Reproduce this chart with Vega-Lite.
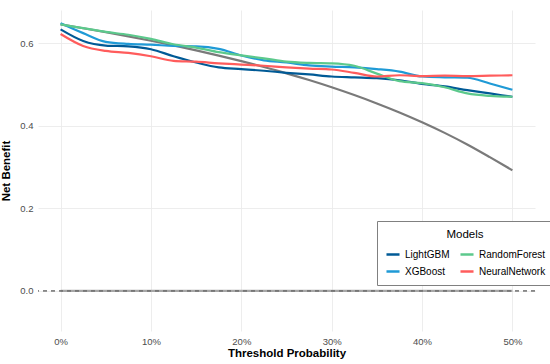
{
  "$schema": "https://vega.github.io/schema/vega-lite/v6.json",
  "width": 497,
  "height": 321,
  "autosize": {"type": "none"},
  "padding": {"left": 38, "top": 10, "right": 15, "bottom": 33},
  "background": "white",
  "config": {
    "font": "Liberation Sans",
    "view": {"stroke": null},
    "axis": {
      "domain": false,
      "ticks": false,
      "grid": true,
      "gridColor": "#ebebeb",
      "gridWidth": 0.9,
      "labelColor": "#4d4d4d",
      "labelFontSize": 9.5,
      "titleFontSize": 11.5,
      "titleFontWeight": "bold",
      "titleColor": "#000000"
    },
    "legend": {
      "orient": "none",
      "legendX": 339,
      "legendY": 211,
      "columns": 2,
      "titleAnchor": "middle",
      "titleFontSize": 11.5,
      "titleFontWeight": "normal",
      "titleColor": "#000000",
      "titlePadding": 6,
      "strokeColor": "#808080",
      "fillColor": "white",
      "padding": 8,
      "symbolType": "stroke",
      "symbolStrokeWidth": 2.5,
      "symbolSize": 170,
      "labelFontSize": 10,
      "labelColor": "#000000",
      "rowPadding": 4,
      "columnPadding": 5
    }
  },
  "datasets": {
    "models": [
      {"t": 0, "nb": 0.633, "model": "LightGBM"},
      {"t": 0.025, "nb": 0.605, "model": "LightGBM"},
      {"t": 0.05, "nb": 0.594, "model": "LightGBM"},
      {"t": 0.075, "nb": 0.592, "model": "LightGBM"},
      {"t": 0.1, "nb": 0.585, "model": "LightGBM"},
      {"t": 0.125, "nb": 0.568, "model": "LightGBM"},
      {"t": 0.15, "nb": 0.553, "model": "LightGBM"},
      {"t": 0.175, "nb": 0.541, "model": "LightGBM"},
      {"t": 0.2, "nb": 0.537, "model": "LightGBM"},
      {"t": 0.225, "nb": 0.533, "model": "LightGBM"},
      {"t": 0.25, "nb": 0.528, "model": "LightGBM"},
      {"t": 0.275, "nb": 0.524, "model": "LightGBM"},
      {"t": 0.3, "nb": 0.519, "model": "LightGBM"},
      {"t": 0.325, "nb": 0.517, "model": "LightGBM"},
      {"t": 0.35, "nb": 0.515, "model": "LightGBM"},
      {"t": 0.375, "nb": 0.51, "model": "LightGBM"},
      {"t": 0.4, "nb": 0.501, "model": "LightGBM"},
      {"t": 0.425, "nb": 0.495, "model": "LightGBM"},
      {"t": 0.45, "nb": 0.486, "model": "LightGBM"},
      {"t": 0.475, "nb": 0.478, "model": "LightGBM"},
      {"t": 0.5, "nb": 0.47, "model": "LightGBM"},
      {"t": 0, "nb": 0.648, "model": "XGBoost"},
      {"t": 0.025, "nb": 0.624, "model": "XGBoost"},
      {"t": 0.05, "nb": 0.603, "model": "XGBoost"},
      {"t": 0.075, "nb": 0.598, "model": "XGBoost"},
      {"t": 0.1, "nb": 0.596, "model": "XGBoost"},
      {"t": 0.125, "nb": 0.593, "model": "XGBoost"},
      {"t": 0.15, "nb": 0.592, "model": "XGBoost"},
      {"t": 0.175, "nb": 0.586, "model": "XGBoost"},
      {"t": 0.2, "nb": 0.57, "model": "XGBoost"},
      {"t": 0.225, "nb": 0.558, "model": "XGBoost"},
      {"t": 0.25, "nb": 0.553, "model": "XGBoost"},
      {"t": 0.275, "nb": 0.546, "model": "XGBoost"},
      {"t": 0.3, "nb": 0.543, "model": "XGBoost"},
      {"t": 0.325, "nb": 0.541, "model": "XGBoost"},
      {"t": 0.35, "nb": 0.537, "model": "XGBoost"},
      {"t": 0.375, "nb": 0.531, "model": "XGBoost"},
      {"t": 0.4, "nb": 0.519, "model": "XGBoost"},
      {"t": 0.425, "nb": 0.517, "model": "XGBoost"},
      {"t": 0.45, "nb": 0.516, "model": "XGBoost"},
      {"t": 0.475, "nb": 0.502, "model": "XGBoost"},
      {"t": 0.5, "nb": 0.487, "model": "XGBoost"},
      {"t": 0, "nb": 0.645, "model": "RandomForest"},
      {"t": 0.025, "nb": 0.636, "model": "RandomForest"},
      {"t": 0.05, "nb": 0.627, "model": "RandomForest"},
      {"t": 0.075, "nb": 0.62, "model": "RandomForest"},
      {"t": 0.1, "nb": 0.61, "model": "RandomForest"},
      {"t": 0.125, "nb": 0.597, "model": "RandomForest"},
      {"t": 0.15, "nb": 0.589, "model": "RandomForest"},
      {"t": 0.175, "nb": 0.578, "model": "RandomForest"},
      {"t": 0.2, "nb": 0.57, "model": "RandomForest"},
      {"t": 0.225, "nb": 0.563, "model": "RandomForest"},
      {"t": 0.25, "nb": 0.555, "model": "RandomForest"},
      {"t": 0.275, "nb": 0.552, "model": "RandomForest"},
      {"t": 0.3, "nb": 0.551, "model": "RandomForest"},
      {"t": 0.325, "nb": 0.545, "model": "RandomForest"},
      {"t": 0.35, "nb": 0.526, "model": "RandomForest"},
      {"t": 0.375, "nb": 0.508, "model": "RandomForest"},
      {"t": 0.4, "nb": 0.503, "model": "RandomForest"},
      {"t": 0.425, "nb": 0.493, "model": "RandomForest"},
      {"t": 0.45, "nb": 0.478, "model": "RandomForest"},
      {"t": 0.475, "nb": 0.472, "model": "RandomForest"},
      {"t": 0.5, "nb": 0.47, "model": "RandomForest"},
      {"t": 0, "nb": 0.622, "model": "NeuralNetwork"},
      {"t": 0.025, "nb": 0.593, "model": "NeuralNetwork"},
      {"t": 0.05, "nb": 0.581, "model": "NeuralNetwork"},
      {"t": 0.075, "nb": 0.576, "model": "NeuralNetwork"},
      {"t": 0.1, "nb": 0.568, "model": "NeuralNetwork"},
      {"t": 0.125, "nb": 0.557, "model": "NeuralNetwork"},
      {"t": 0.15, "nb": 0.555, "model": "NeuralNetwork"},
      {"t": 0.175, "nb": 0.551, "model": "NeuralNetwork"},
      {"t": 0.2, "nb": 0.548, "model": "NeuralNetwork"},
      {"t": 0.225, "nb": 0.545, "model": "NeuralNetwork"},
      {"t": 0.25, "nb": 0.541, "model": "NeuralNetwork"},
      {"t": 0.275, "nb": 0.538, "model": "NeuralNetwork"},
      {"t": 0.3, "nb": 0.536, "model": "NeuralNetwork"},
      {"t": 0.325, "nb": 0.528, "model": "NeuralNetwork"},
      {"t": 0.35, "nb": 0.519, "model": "NeuralNetwork"},
      {"t": 0.375, "nb": 0.522, "model": "NeuralNetwork"},
      {"t": 0.4, "nb": 0.52, "model": "NeuralNetwork"},
      {"t": 0.425, "nb": 0.521, "model": "NeuralNetwork"},
      {"t": 0.45, "nb": 0.52, "model": "NeuralNetwork"},
      {"t": 0.475, "nb": 0.521, "model": "NeuralNetwork"},
      {"t": 0.5, "nb": 0.522, "model": "NeuralNetwork"}
    ],
    "all": [
      {"t": 0, "nb": 0.645},
      {"t": 0.025, "nb": 0.6359},
      {"t": 0.05, "nb": 0.6263},
      {"t": 0.075, "nb": 0.6162},
      {"t": 0.1, "nb": 0.6056},
      {"t": 0.125, "nb": 0.5943},
      {"t": 0.15, "nb": 0.5824},
      {"t": 0.175, "nb": 0.5697},
      {"t": 0.2, "nb": 0.5563},
      {"t": 0.225, "nb": 0.5419},
      {"t": 0.25, "nb": 0.5267},
      {"t": 0.275, "nb": 0.5104},
      {"t": 0.3, "nb": 0.4929},
      {"t": 0.325, "nb": 0.4741},
      {"t": 0.35, "nb": 0.4538},
      {"t": 0.375, "nb": 0.432},
      {"t": 0.4, "nb": 0.4083},
      {"t": 0.425, "nb": 0.3826},
      {"t": 0.45, "nb": 0.3545},
      {"t": 0.475, "nb": 0.3238},
      {"t": 0.5, "nb": 0.292}
    ],
    "none": [
      {"t": 0, "nb": 0},
      {"t": 0.5, "nb": 0}
    ]
  },
  "encoding": {
    "x": {
      "field": "t",
      "type": "quantitative",
      "scale": {"domain": [-0.025, 0.525], "nice": false, "zero": false},
      "axis": {"values": [0, 0.1, 0.2, 0.3, 0.4, 0.5], "format": ".0%", "title": "Threshold Probability", "labelPadding": 5, "titlePadding": 2}
    },
    "y": {
      "field": "nb",
      "type": "quantitative",
      "scale": {"domain": [-0.097, 0.68], "nice": false, "zero": false},
      "axis": {"values": [0, 0.2, 0.4, 0.6], "format": ".1f", "title": "Net Benefit", "labelPadding": 5, "titlePadding": 8}
    }
  },
  "layer": [
    {
      "data": {"name": "none"},
      "mark": {"type": "line", "color": "#a6a6a6", "strokeWidth": 2.2}
    },
    {
      "data": {"name": "none"},
      "mark": {"type": "rule", "color": "#6e6e6e", "strokeWidth": 1, "strokeDash": [4, 4]},
      "encoding": {"x": null, "y": {"datum": 0, "type": "quantitative"}}
    },
    {
      "data": {"name": "all"},
      "mark": {"type": "line", "color": "#7a7a7a", "strokeWidth": 2.2, "interpolate": "monotone"}
    },
    {
      "data": {"name": "models"},
      "mark": {"type": "line", "strokeWidth": 2.2, "interpolate": "monotone"},
      "encoding": {
        "color": {
          "field": "model",
          "type": "nominal",
          "title": "Models",
          "scale": {
            "domain": ["LightGBM", "XGBoost", "RandomForest", "NeuralNetwork"],
            "range": ["#005a96", "#1f9ad6", "#5cc98c", "#ff5c5c"]
          }
        }
      }
    }
  ]
}
